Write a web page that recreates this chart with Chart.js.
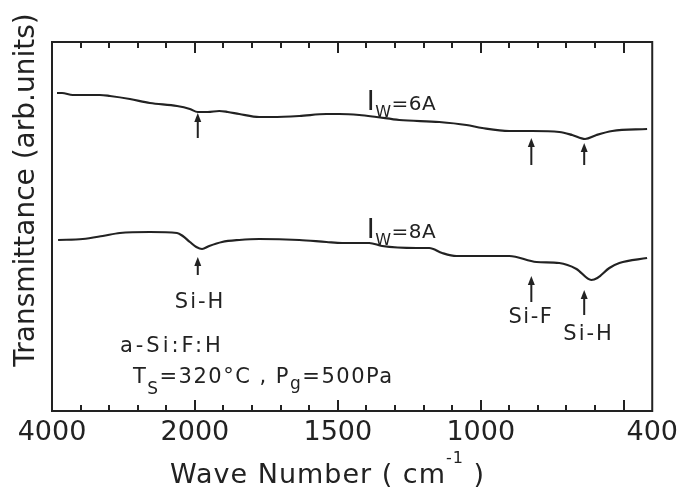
<!DOCTYPE html>
<html>
<head>
<meta charset="utf-8">
<script src="https://cdn.jsdelivr.net/npm/chart.js@4.4.1/dist/chart.umd.min.js"></script>
<style>
  html, body { margin: 0; padding: 0; background: #fff; }
  canvas { display: block; }
</style>
</head>
<body>
<canvas id="irChart" width="684" height="489"></canvas>
<script>
// wave number (cm-1) and transmittance (arb. units)
const wave6A = [3930, 3860, 3710, 3330, 3190, 2910, 2630, 2250, 2070, 1990, 1955, 1915, 1885, 1845, 1775, 1730, 1635, 1540, 1495, 1425, 1365, 1285, 1145, 1050, 995, 900, 820, 725, 680, 635, 595, 540, 418];
const trans6A = [31.8, 31.8, 31.6, 31.6, 31.5, 31.2, 30.8, 30.5, 30.2, 29.9, 29.9, 30.0, 29.9, 29.7, 29.4, 29.4, 29.5, 29.7, 29.7, 29.6, 29.4, 29.1, 28.9, 28.6, 28.3, 28.0, 28.0, 27.9, 27.6, 27.2, 27.6, 28.0, 28.2];
const wave8A = [3915, 3570, 3290, 3050, 2630, 2250, 2170, 2070, 1995, 1975, 1950, 1905, 1845, 1775, 1635, 1540, 1485, 1390, 1345, 1225, 1180, 1135, 1085, 995, 900, 805, 725, 665, 613, 592, 550, 515, 418];
const trans8A = [17.1, 17.2, 17.5, 17.8, 17.9, 17.8, 17.5, 16.9, 16.4, 16.2, 16.5, 16.9, 17.1, 17.2, 17.1, 16.9, 16.8, 16.8, 16.5, 16.3, 16.3, 15.8, 15.5, 15.5, 15.5, 14.9, 14.8, 14.2, 13.1, 13.3, 14.3, 14.8, 15.3];
const tickLabels = [4000, 2000, 1500, 1000, 400];

// spectrometer paper: the 4000-2000 part is squeezed 4x
function toAxis(w) { return w >= 2000 ? (4000 - w) / 4 : 500 + (2000 - w); }
function fromAxis(u) { return u <= 500 ? 4000 - 4 * u : 2000 - (u - 500); }

const ink = '#222';
const FONT = '"DejaVu Sans"';

// band markers: tip and tail in transmittance units
const arrows = [
  { w: 1990, tip: 29.8, tail: 27.3 },
  { w: 823, tip: 27.3, tail: 24.6 },
  { w: 638, tip: 26.8, tail: 24.6 },
  { w: 1990, tip: 15.4, tail: 13.6 },
  { w: 823, tip: 13.5, tail: 10.9 },
  { w: 638, tip: 12.1, tail: 9.6 }
];

// text notes: [text, font size, baseline shift]
const notes = [
  { w: 1399, v: 30.1, gap: 0.5, parts: [['I', 27, 0], ['W', 16, 7], ['=6A', 20, 0]] },
  { w: 1399, v: 17.3, gap: 0.5, parts: [['I', 27, 0], ['W', 16, 7], ['=8A', 20, 0]] },
  { w: 2281, v: 10.3, gap: 2, parts: [['Si-H', 21, 0]] },
  { w: 3050, v: 5.9, gap: 3, parts: [['a-Si:F:H', 21, 0]] },
  { w: 2868, v: 2.8, gap: 1.5, parts: [['T', 21, 0], ['S', 17, 11], ['=320°C , P', 21, 0], ['g', 17, 6], ['=500Pa', 21, 0]] },
  { w: 903, v: 8.8, gap: 1.5, parts: [['Si-F', 21, 0]] },
  { w: 711, v: 7.1, gap: 2, parts: [['Si-H', 21, 0]] }
];

function drawRich(ctx, parts, x, y, gap) {
  ctx.letterSpacing = gap + 'px';
  ctx.textAlign = 'left';
  ctx.textBaseline = 'alphabetic';
  parts.forEach(([txt, size, dy]) => {
    ctx.font = size + 'px ' + FONT;
    ctx.fillText(txt, x, y + dy);
    x += ctx.measureText(txt).width;
  });
  ctx.letterSpacing = '0px';
}

const framePlugin = {
  id: 'frame',
  afterDraw(chart) {
    const { ctx, chartArea: a, scales: { x, y } } = chart;
    ctx.save();
    ctx.fillStyle = ink;
    ctx.strokeStyle = ink;
    ctx.lineWidth = 2;
    ctx.strokeRect(a.left, a.top, a.right - a.left, a.bottom - a.top);

    // inward ticks on top and bottom edges, every 100 axis units
    for (let u = 100; u < 2100; u += 100) {
      const px = Math.round(x.getPixelForValue(u));
      const len = u % 500 === 0 ? 11 : 6;
      ctx.fillRect(px - 1, a.top, 2, len);
      ctx.fillRect(px - 1, a.bottom - len, 2, len);
    }

    arrows.forEach(ar => {
      const px = x.getPixelForValue(toAxis(ar.w));
      const ty = y.getPixelForValue(ar.tip);
      const by = y.getPixelForValue(ar.tail);
      ctx.beginPath();
      ctx.moveTo(px, ty + 4); ctx.lineTo(px, by);
      ctx.stroke();
      ctx.beginPath();
      ctx.moveTo(px, ty); ctx.lineTo(px - 3.5, ty + 9); ctx.lineTo(px + 3.5, ty + 9);
      ctx.closePath();
      ctx.fill();
    });

    notes.forEach(n => {
      drawRich(ctx, n.parts, x.getPixelForValue(toAxis(n.w)), y.getPixelForValue(n.v), n.gap);
    });

    // axis titles
    drawRich(ctx, [['Wave Number ( cm', 27, 0], ['-1', 16, -20], [' )', 27, 0]], 170, 483, 1);
    ctx.save();
    ctx.translate(27, 190);
    ctx.rotate(-Math.PI / 2);
    ctx.font = '28px ' + FONT;
    ctx.textAlign = 'center';
    ctx.textBaseline = 'middle';
    ctx.fillText('Transmittance (arb.units)', 0, 0);
    ctx.restore();

    ctx.restore();
  }
};

function lineData(waves, values) {
  return waves.map((w, i) => ({ x: toAxis(w), y: values[i] }));
}

new Chart(document.getElementById('irChart'), {
  type: 'line',
  data: {
    datasets: [
      { label: 'Iw=6A', data: lineData(wave6A, trans6A) },
      { label: 'Iw=8A', data: lineData(wave8A, trans8A) }
    ]
  },
  options: {
    responsive: false,
    animation: false,
    devicePixelRatio: 1,
    layout: { padding: { top: 42, right: 31, left: 0, bottom: 0 } },
    elements: {
      line: { borderColor: ink, borderWidth: 2.2, cubicInterpolationMode: 'monotone' },
      point: { radius: 0 }
    },
    plugins: { legend: { display: false }, tooltip: { enabled: false } },
    scales: {
      x: {
        type: 'linear',
        min: 0,
        max: 2100,
        grid: { display: false, drawTicks: false },
        border: { display: false },
        ticks: {
          stepSize: 100,
          autoSkip: false,
          maxRotation: 0,
          padding: 6,
          color: ink,
          font: { family: 'DejaVu Sans', size: 27 },
          callback: v => {
            const w = Math.round(fromAxis(v));
            return tickLabels.includes(w) && (v % 500 === 0 || v === 2100) ? String(w) : '';
          }
        },
        afterFit: s => { s.height = 78; }
      },
      y: {
        min: 0,
        max: 36.9,
        grid: { display: false },
        border: { display: false },
        ticks: { display: false },
        afterFit: s => { s.width = 52; }
      }
    }
  },
  plugins: [framePlugin]
});
</script>
</body>
</html>
